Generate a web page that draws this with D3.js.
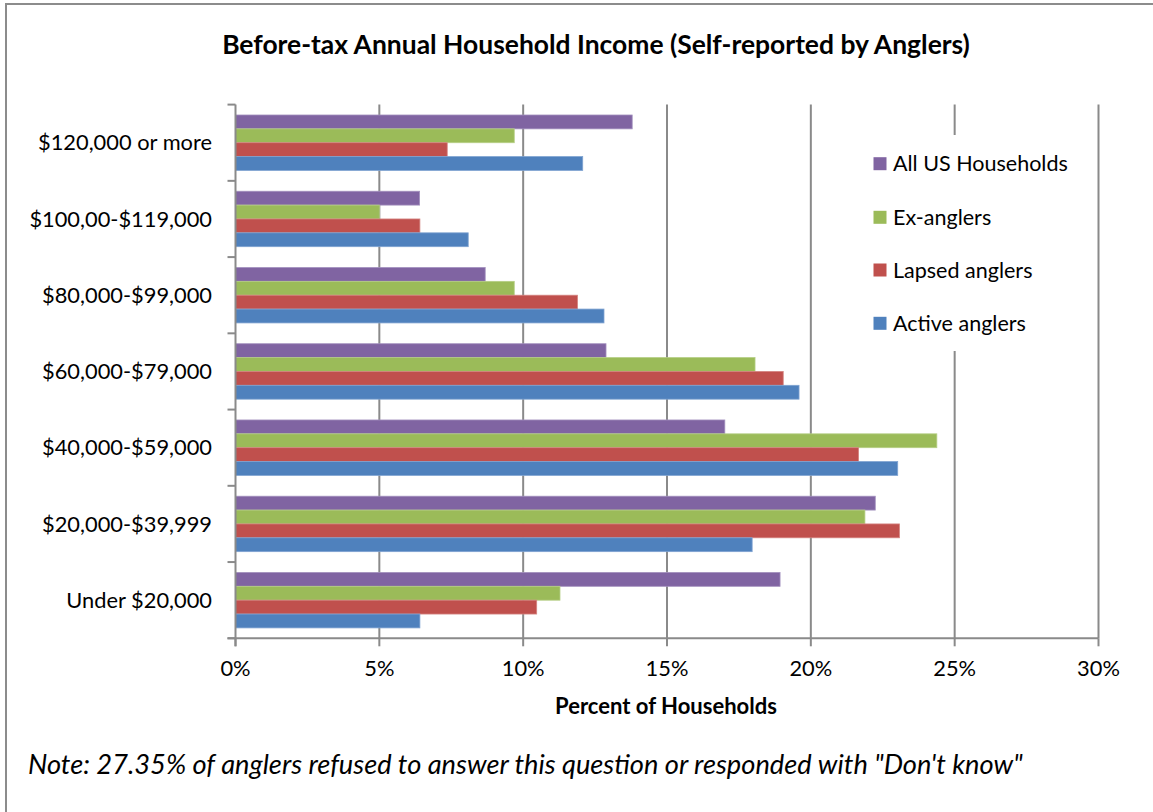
<!DOCTYPE html>
<html>
<head>
<meta charset="utf-8">
<script src="https://cdn.jsdelivr.net/npm/d3@7"></script>
<style>
  html, body { margin: 0; padding: 0; background: #fff; }
  svg { display: block; font-family: Lato, "Open Sans", sans-serif; }
</style>
</head>
<body>
<svg id="chart" width="1153" height="812"></svg>
<script>
// ---- Data ----
const categories = ["$120,000 or more", "$100,00-$119,000", "$80,000-$99,000", "$60,000-$79,000", "$40,000-$59,000", "$20,000-$39,999", "Under $20,000"];
const seriesNames = ["All US Households", "Ex-anglers", "Lapsed anglers", "Active anglers"];
const allUS      = [13.79, 6.40, 8.68, 12.88, 17.01, 22.24, 18.93];
const exAnglers  = [9.69, 5.00, 9.69, 18.06, 24.38, 21.88, 11.28];
const lapsed     = [7.36, 6.41, 11.89, 19.04, 21.66, 23.08, 10.47];
const active     = [12.07, 8.09, 12.81, 19.59, 23.02, 17.96, 6.41];
const xTicks = [0, 5, 10, 15, 20, 25, 30];
const colors = ["#8064A2", "#9BBB59", "#C0504D", "#4F81BD"];
const strokes = ["#A391BE", "#B5CE85", "#D48480", "#7FA3D1"];

const seriesValues = [allUS, exAnglers, lapsed, active];
const svg = d3.select("#chart");

// fit helper: scale font size so text reaches target width
function fit(sel, target) {
  const node = sel.node();
  const fs = parseFloat(sel.attr("font-size"));
  const w = node.getComputedTextLength();
  const nfs = fs * target / w;
  sel.attr("font-size", nfs);
  return nfs;
}

// Outer frame
svg.append("rect").attr("x", 6).attr("y", 4).attr("width", 1170).attr("height", 830)
  .attr("fill", "none").attr("stroke", "#8c8c8c").attr("stroke-width", 2);

// Scales
const x = d3.scaleLinear().domain([0, 30]).range([235.5, 1098.5]);
const y = d3.scaleBand().domain(categories).range([104.6, 638.3]).padding(0);
const ySub = d3.scaleBand().domain(seriesNames).range([0, y.bandwidth()]).paddingInner(0).paddingOuter(0.75);

const gridColor = "#8a8a8a";

// Gridlines
svg.append("g").selectAll("line").data(xTicks.filter(d => d > 0)).join("line")
  .attr("x1", d => x(d)).attr("x2", d => x(d))
  .attr("y1", y.range()[0]).attr("y2", y.range()[1])
  .attr("stroke", gridColor).attr("stroke-width", 2);

// Bars
const rows = [];
categories.forEach((c, i) => seriesNames.forEach((s, j) => rows.push({c, s, j, v: seriesValues[j][i]})));
svg.append("g").selectAll("rect").data(rows).join("rect")
  .attr("x", x(0))
  .attr("y", d => y(d.c) + ySub(d.s))
  .attr("width", d => x(d.v) - x(0))
  .attr("height", ySub.bandwidth())
  .attr("fill", d => colors[d.j])
  .attr("stroke", d => strokes[d.j]).attr("stroke-width", 0.8);

// Axes lines
const axisG = svg.append("g");
axisG.append("line").attr("x1", x(0)).attr("x2", x(0)).attr("y1", y.range()[0]).attr("y2", y.range()[1] + 8)
  .attr("stroke", gridColor).attr("stroke-width", 2);
axisG.append("line").attr("x1", x(0) - 8).attr("x2", x(30)).attr("y1", y.range()[1]).attr("y2", y.range()[1])
  .attr("stroke", gridColor).attr("stroke-width", 2);
// x ticks
axisG.selectAll(".xt").data(xTicks).join("line").attr("class", "xt")
  .attr("x1", d => x(d)).attr("x2", d => x(d)).attr("y1", y.range()[1]).attr("y2", y.range()[1] + 8)
  .attr("stroke", gridColor).attr("stroke-width", 2);
// y ticks at category boundaries
const bounds = categories.map(c => y(c)).concat([y.range()[1]]);
axisG.selectAll(".yt").data(bounds).join("line").attr("class", "yt")
  .attr("x1", x(0) - 8).attr("x2", x(0)).attr("y1", d => d).attr("y2", d => d)
  .attr("stroke", gridColor).attr("stroke-width", 2);

// Y labels
const yLab = svg.append("g").selectAll("text").data(categories).join("text")
  .attr("x", 212).attr("y", d => y(d) + y.bandwidth() / 2)
  .attr("dy", "0.35em").attr("text-anchor", "end")
  .attr("font-size", 20).attr("fill", "#000").text(d => d);
const labFs = fit(d3.select(yLab.nodes()[0]), 174);
yLab.attr("font-size", labFs);

// X tick labels
svg.append("g").selectAll("text").data(xTicks).join("text")
  .attr("x", d => x(d)).attr("y", 676).attr("text-anchor", "middle")
  .attr("font-size", labFs).attr("fill", "#000").text(d => d + "%");

// Axis title
const xt = svg.append("text").attr("x", 666).attr("y", 714).attr("text-anchor", "middle")
  .attr("font-weight", "bold").attr("font-size", 20).attr("fill", "#000").text("Percent of Households");
fit(xt, 222);

// Title
const title = svg.append("text").attr("x", 596).attr("y", 54).attr("text-anchor", "middle")
  .attr("font-weight", "bold").attr("font-size", 26).attr("fill", "#000")
  .text("Before-tax Annual Household Income (Self-reported by Anglers)");
fit(title, 748);

// Legend
svg.append("rect").attr("x", 862).attr("y", 135).attr("width", 226).attr("height", 216).attr("fill", "#fff");
const legY = [163.7, 217.3, 270, 323.3];
const leg = svg.append("g").selectAll("g").data(seriesNames).join("g")
  .attr("transform", (d, i) => `translate(873.5, ${legY[i]})`);
leg.append("rect").attr("x", 0).attr("y", -6.5).attr("width", 13).attr("height", 13)
  .attr("fill", (d, i) => colors[i]);
const legT = leg.append("text").attr("x", 19.5).attr("dy", "0.35em").attr("font-size", 20)
  .attr("fill", "#000").text(d => d);
const legFs = fit(d3.select(legT.nodes()[0]), 175);
legT.attr("font-size", legFs);

// Note
const note = svg.append("text").attr("x", 28).attr("y", 774).attr("font-style", "italic")
  .attr("font-size", 22).attr("fill", "#000")
  .text("Note: 27.35% of anglers refused to answer this question or responded with \"Don't know\"");
fit(note, 995);
</script>
</body>
</html>
